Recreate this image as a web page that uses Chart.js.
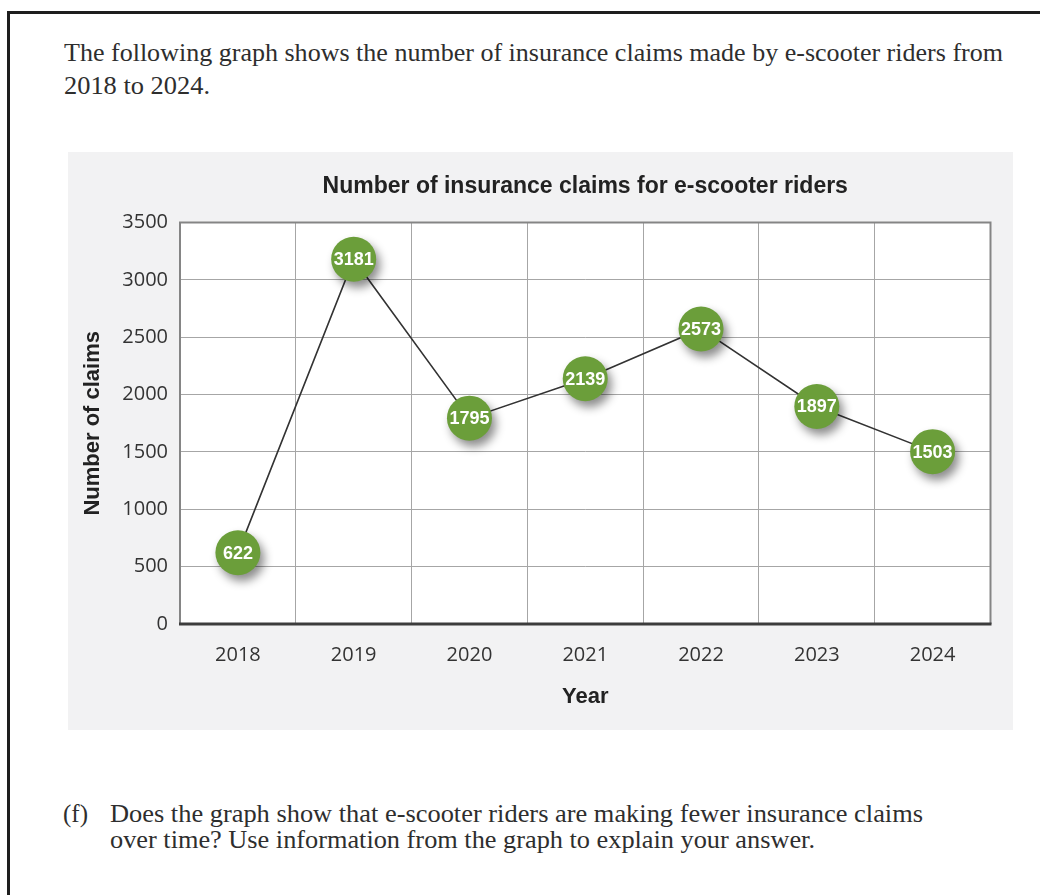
<!DOCTYPE html>
<html>
<head>
<meta charset="utf-8">
<script src="https://cdn.jsdelivr.net/npm/chart.js@4.4.1/dist/chart.umd.min.js"></script>
<style>
  html, body { margin: 0; padding: 0; background: #fff; }
  body { width: 1040px; height: 895px; position: relative; overflow: hidden; }
  .frame-top { position: absolute; left: 7px; top: 11px; width: 1033px; height: 3px; background: #1e1e1e; }
  .frame-left { position: absolute; left: 7px; top: 11px; width: 3px; height: 884px; background: #1e1e1e; }
  .txt { position: absolute; font-family: "Liberation Serif", "Times New Roman", Times, serif; font-size: 25px; line-height: 25px;
         color: #2e2e2e; white-space: nowrap; transform-origin: 0 0; }
  .box { position: absolute; left: 68px; top: 152px; width: 945px; height: 578px; background: #f2f2f3; }
</style>
</head>
<body>
<div class="frame-top"></div>
<div class="frame-left"></div>

<div class="txt" style="left:64px; top:40px" data-w="939">The following graph shows the number of insurance claims made by e-scooter riders from</div>
<div class="txt" style="left:64px; top:73px" data-w="146">2018 to 2024.</div>

<div class="box"><canvas id="myChart" width="945" height="578"></canvas></div>

<div class="txt" style="left:63px; top:801px">(f)</div>
<div class="txt" style="left:110px; top:801px" data-w="813">Does the graph show that e-scooter riders are making fewer insurance claims</div>
<div class="txt" style="left:110px; top:827px" data-w="705">over time? Use information from the graph to explain your answer.</div>

<script>
const years = ["2018", "2019", "2020", "2021", "2022", "2023", "2024"];
const claims = [622, 3181, 1795, 2139, 2573, 1897, 1503];
const yMin = 0;
const yMax = 3500;
const yStep = 500;

// stretch text lines to the width they have in the original
document.querySelectorAll(".txt[data-w]").forEach((el) => {
  const w = el.getBoundingClientRect().width;
  el.style.transform = "scaleX(" + el.dataset.w / w + ")";
});

const verde = "#6b9e3a";
const fuenteTitulo = "'Liberation Sans', Arial, sans-serif";

const fondoPlot = {
  id: "fondoPlot",
  beforeDraw(chart) {
    const { ctx, chartArea: a } = chart;
    ctx.save();
    ctx.fillStyle = "#ffffff";
    ctx.fillRect(a.left, a.top, a.right - a.left, a.bottom - a.top);
    ctx.restore();
  },
  beforeDatasetsDraw(chart) {
    const { ctx, chartArea: a } = chart;
    ctx.save();
    ctx.strokeStyle = "#858585";
    ctx.lineWidth = 2;
    ctx.beginPath();
    ctx.moveTo(a.left, a.bottom);
    ctx.lineTo(a.left, a.top);
    ctx.lineTo(a.right, a.top);
    ctx.lineTo(a.right, a.bottom);
    ctx.stroke();
    ctx.strokeStyle = "#3c3c3c";
    ctx.lineWidth = 3;
    ctx.beginPath();
    ctx.moveTo(a.left - 1, a.bottom);
    ctx.lineTo(a.right + 1, a.bottom);
    ctx.stroke();
    ctx.restore();
  },
};

const sombra = {
  id: "sombra",
  beforeDatasetDraw(chart, args) {
    if (args.index !== 0) return;
    const ctx = chart.ctx;
    ctx.save();
    ctx.shadowColor = "rgba(0,0,0,0.45)";
    ctx.shadowBlur = 10;
    ctx.shadowOffsetX = 4;
    ctx.shadowOffsetY = 6;
  },
  afterDatasetDraw(chart, args) {
    if (args.index !== 0) return;
    chart.ctx.restore();
  },
};

const etiquetas = {
  id: "etiquetas",
  afterDatasetsDraw(chart) {
    const ctx = chart.ctx;
    const meta = chart.getDatasetMeta(0);
    ctx.save();
    ctx.fillStyle = "#ffffff";
    ctx.font = "bold 18px " + fuenteTitulo;
    ctx.textAlign = "center";
    ctx.textBaseline = "middle";
    meta.data.forEach((pt, i) => {
      ctx.fillText(String(claims[i]), pt.x, pt.y + 1);
    });
    ctx.restore();
  },
};

const myChart = document.querySelector("#myChart");
new Chart(myChart, {
  type: "line",
  data: {
    labels: years,
    datasets: [
      {
        label: "puntos",
        data: claims,
        showLine: false,
        pointRadius: 22.5,
        pointHoverRadius: 22.5,
        pointBackgroundColor: verde,
        pointBorderWidth: 0,
        order: 0,
      },
      {
        label: "linea",
        data: claims,
        borderColor: "#333333",
        borderWidth: 1.6,
        pointRadius: 0,
        tension: 0,
        order: 1,
      },
    ],
  },
  options: {
    responsive: false,
    devicePixelRatio: 1,
    animation: false,
    layout: { padding: { left: 0, right: 16, top: 0, bottom: 16 } },
    plugins: {
      legend: { display: false },
      tooltip: { enabled: false },
      title: {
        display: true,
        text: "Number of insurance claims for e-scooter riders",
        color: "#222222",
        fullSize: false,
        font: { family: fuenteTitulo, size: 23, weight: "bold" },
        padding: { top: 21, bottom: 22 },
      },
    },
    scales: {
      x: {
        offset: true,
        grid: { offset: true, color: "#a6a6a6", lineWidth: 1, drawTicks: false },
        border: { display: false },
        ticks: {
          color: "#333333",
          padding: 19,
          font: { family: "'Open Sans', sans-serif", size: 20 },
        },
        title: {
          display: true,
          text: "Year",
          color: "#222222",
          font: { family: fuenteTitulo, size: 22, weight: "bold" },
          padding: { top: 4, bottom: 4 },
        },
        afterFit(scale) {
          scale.height = 90;
        },
      },
      y: {
        min: yMin,
        max: yMax,
        grid: { color: "#a6a6a6", lineWidth: 1, drawTicks: false },
        border: { display: false },
        ticks: {
          stepSize: yStep,
          color: "#333333",
          padding: 12,
          font: { family: "'Open Sans', sans-serif", size: 20 },
          callback: (v) => String(v),
        },
        title: {
          display: true,
          text: "Number of claims",
          color: "#222222",
          font: { family: fuenteTitulo, size: 22, weight: "bold" },
          padding: { top: 12, bottom: 0 },
        },
        afterFit(scale) {
          scale.width = 112;
        },
      },
    },
  },
  plugins: [fondoPlot, sombra, etiquetas],
});
</script>
</body>
</html>
